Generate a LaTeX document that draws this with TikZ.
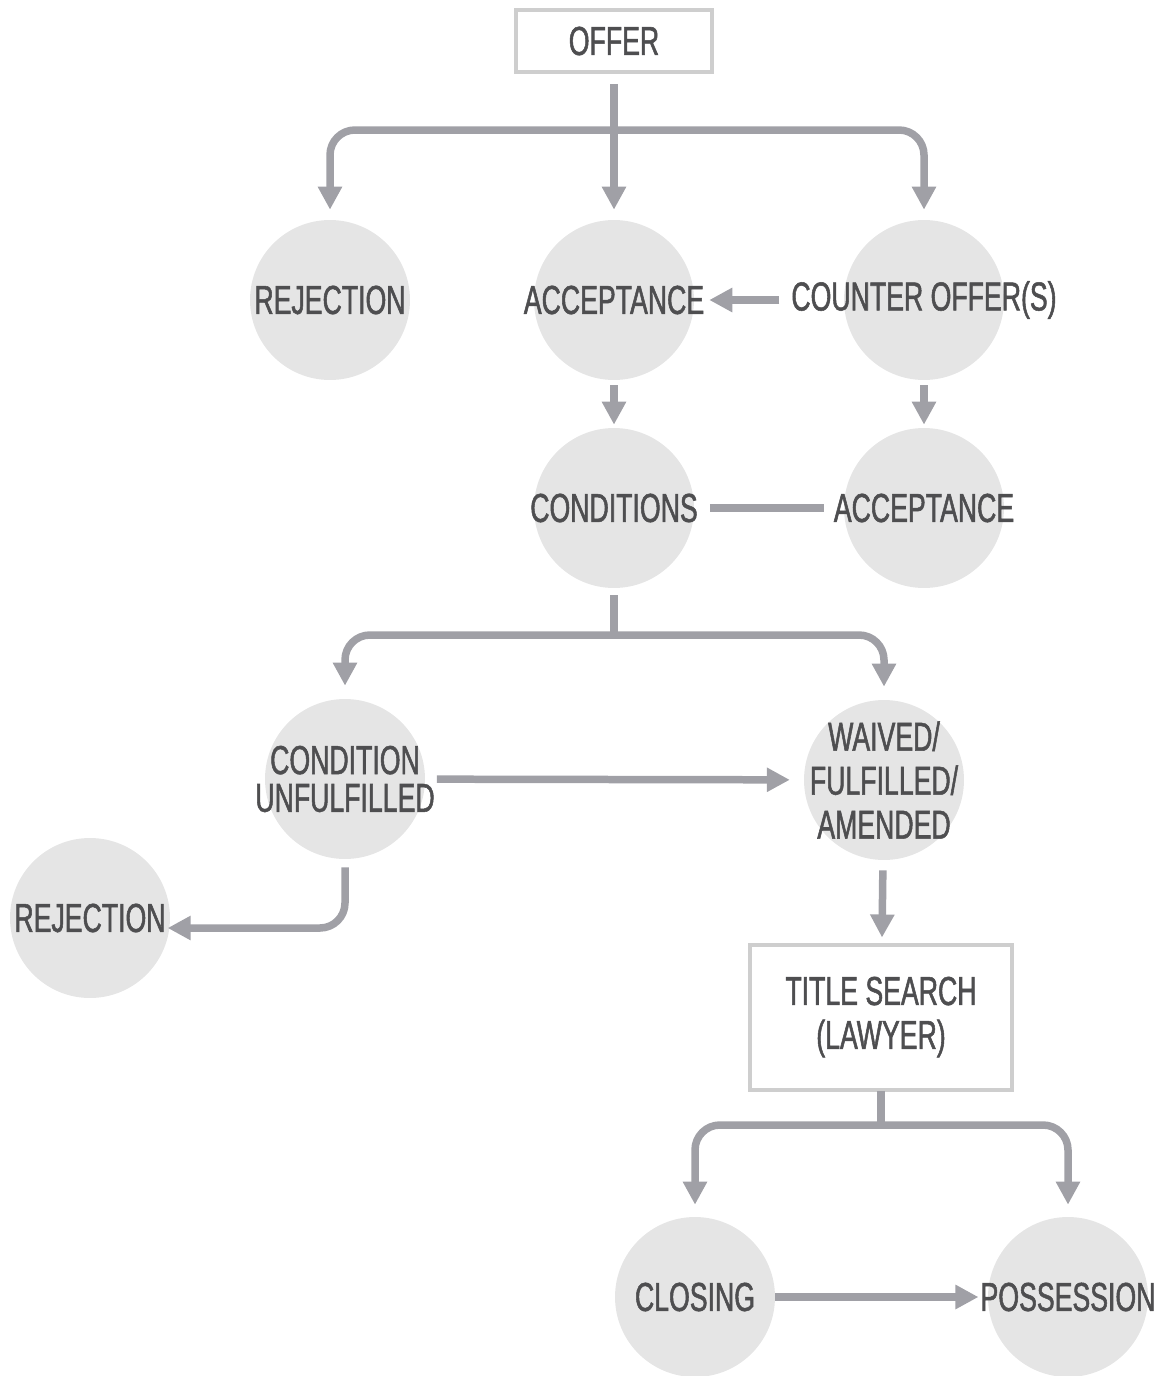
\documentclass[tikz,border=0pt]{standalone}
\usepackage{fontspec}
\setmainfont[FakeStretch=0.66,FakeBold=1.3]{Liberation Sans}
\usetikzlibrary{arrows.meta,positioning}
\definecolor{discgray}{RGB}{229,229,229}
\definecolor{linegray}{RGB}{160,160,166}
\definecolor{framegray}{RGB}{206,206,206}
\definecolor{textgray}{RGB}{78,78,80}

\begin{document}
\begin{tikzpicture}[
    x=0.02cm, y=-0.02cm,
    font=\fontsize{23}{25}\selectfont,
    text=textgray,
    disc/.style={circle, fill=discgray, minimum size=3.2cm, inner sep=0pt},
    box/.style={draw=framegray, line width=0.08cm, fill=white, minimum width=3.92cm, minimum height=1.24cm, align=center},
    arrow/.style={-{Triangle[length=0.46cm, width=0.46cm]}, line width=0.15cm, draw=linegray},
    link/.style={line width=0.15cm, draw=linegray},
    every label/.style={align=center, text=textgray, inner sep=1pt}
  ]
    \useasboundingbox (0,0) rectangle (1171,1376);

    \node[box] (offer) at (614,41) {OFFER};
    \node[disc, label={[name=rej1t]center:REJECTION}] (rej1) at (330,300) {};
    \node[disc, label={[name=acc1t]center:ACCEPTANCE}] (acc1) at (614,300) {};
    \node[disc, label={[name=countert]center:COUNTER OFFER(S)}] (counter) at (924,300) {};
    \node[disc, label={[name=condt]center:CONDITIONS}] (cond) at (614,508) {};
    \node[disc, label={[name=acc2t]center:ACCEPTANCE}] (acc2) at (924,508) {};
    \node[disc, label={[name=unfult, font=\fontsize{23}{21.5}\selectfont]center:{CONDITION\\UNFULFILLED}}] (unful) at (345,779) {};
    \node[disc, label={[name=waivedt]center:{WAIVED/\\FULFILLED/\\AMENDED}}] (waived) at (884,780) {};
    \node[disc, label={[name=rej2t]center:REJECTION}] (rej2) at (90,918) {};
    \node[box, minimum width=5.26cm, minimum height=2.9cm] (title) at (881,1017) {TITLE SEARCH\\(LAWYER)};
    \node[disc, label={[name=closet]center:CLOSING}] (closing) at (695,1297) {};
    \node[disc, label={[name=posst]center:POSSESSION}] (poss) at (1068,1297) {};

    \coordinate (split1) at (614,130);
    \coordinate (split2) at (614,635);
    \coordinate (split3) at (881,1125);

    \draw[arrow, shorten <=0.2cm, shorten >=0.2cm] (offer) -- (acc1);
    \draw[arrow, rounded corners=0.5cm, shorten >=0.2cm] (split1) -| (rej1);
    \draw[arrow, rounded corners=0.5cm, shorten >=0.2cm] (split1) -| (counter);
    \draw[arrow, shorten <=0.2cm, shorten >=0.06cm] (countert) -- (acc1t);
    \draw[arrow, shorten <=0.1cm, shorten >=0.06cm] (acc1) -- (cond);
    \draw[arrow, shorten <=0.1cm, shorten >=0.06cm] (counter) -- (acc2);
    \draw[link, shorten <=0.2cm, shorten >=0.16cm] (condt) -- (acc2t);

    \draw[link, shorten <=0.14cm] (cond) -- (split2);
    \draw[arrow, rounded corners=0.5cm, shorten >=0.26cm] (split2) -| (unful);
    \draw[arrow, rounded corners=0.5cm, shorten >=0.26cm] (split2) -| (waived);
    \draw[arrow, shorten >=0.36cm] (unfult) -- (waivedt);
    \draw[arrow, rounded corners=0.5cm, shorten <=0.16cm] (unful) |- ([yshift=-0.2cm]rej2t.east);

    \draw[arrow, shorten <=0.2cm, shorten >=0.1cm] (waived) -- (title);
    \draw[link] (title) -- (split3);
    \draw[arrow, rounded corners=0.5cm, shorten >=0.24cm] (split3) -| (closing);
    \draw[arrow, rounded corners=0.5cm, shorten >=0.24cm] (split3) -| (poss);
    \draw[arrow] (closing) -- (posst);
  \end{tikzpicture}
\end{document}
